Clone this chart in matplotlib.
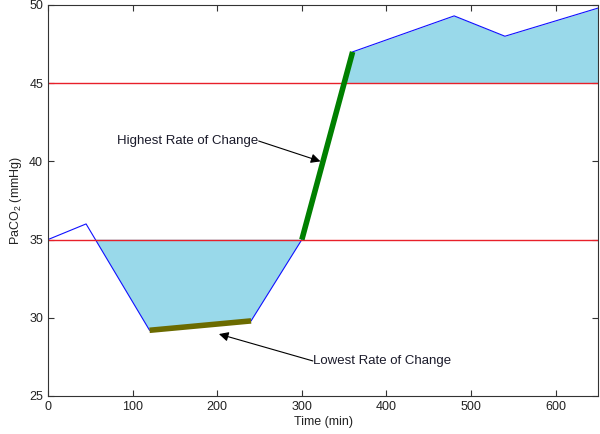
import matplotlib
matplotlib.use("Agg")
import matplotlib.pyplot as plt
import numpy as np

plt.rcParams['font.family'] = ['Liberation Sans', 'DejaVu Sans']
plt.rcParams['mathtext.fontset'] = 'custom'
plt.rcParams['mathtext.rm'] = 'Liberation Sans'
plt.rcParams['mathtext.it'] = 'Liberation Sans'

# Data
time = [0, 45, 120, 240, 300, 360, 480, 540, 650]
paco2 = [35, 36, 29.2, 29.8, 35, 47, 49.3, 48, 49.8]
low_limit = 35
high_limit = 45
highest_seg_t = [300, 360]
highest_seg_v = [35, 47]
lowest_seg_t = [120, 240]
lowest_seg_v = [29.2, 29.8]
x_ticks = [0, 100, 200, 300, 400, 500, 600]
y_ticks = [25, 30, 35, 40, 45, 50]

fig = plt.figure(figsize=(6, 4.34), dpi=100)
ax = fig.add_axes([0.08, 0.0876, 0.9167, 0.901])

t = np.array(time, dtype=float)
v = np.array(paco2, dtype=float)
ax.fill_between(t, v, low_limit, where=v <= low_limit, interpolate=True,
                color='#99d9ea', linewidth=0)
ax.fill_between(t, v, high_limit, where=v >= high_limit, interpolate=True,
                color='#99d9ea', linewidth=0)
ax.plot(t, v, color='#1010ff', linewidth=0.8)
ax.axhline(low_limit, color='#e8202a', linewidth=1.0)
ax.axhline(high_limit, color='#e8202a', linewidth=1.0)
ax.plot(highest_seg_t, highest_seg_v, color='#008000', linewidth=4, solid_capstyle='butt')
ax.plot(lowest_seg_t, lowest_seg_v, color='#6b6b00', linewidth=4, solid_capstyle='butt')

arrow_kw = dict(arrowstyle='-|>', color='black', lw=0.8,
                mutation_scale=14, shrinkA=0, shrinkB=0)
ax.text(249, 41.3, 'Highest Rate of Change', ha='right', va='center',
        fontsize=9.5, color='#1a1a2a')
ax.annotate('', xy=(322, 40), xytext=(249, 41.3), arrowprops=arrow_kw)
ax.text(313, 27.24, 'Lowest Rate of Change', ha='left', va='center',
        fontsize=9.5, color='#1a1a2a')
ax.annotate('', xy=(202, 28.96), xytext=(313, 27.24), arrowprops=arrow_kw)

ax.set_xlim(0, 650)
ax.set_ylim(25, 50)
ax.set_xticks(x_ticks)
ax.set_yticks(y_ticks)
ax.tick_params(direction='in', top=True, right=True, labelsize=9, length=4, color='#333333',
               labelcolor='#222222')
for s in ax.spines.values():
    s.set_color('#333333')
ax.set_xlabel('Time (min)', fontsize=9, labelpad=2, color='#222222')
ax.set_ylabel('PaCO$_2$ (mmHg)', fontsize=9, labelpad=4, color='#222222')

fig.savefig('out.png', dpi=100)
